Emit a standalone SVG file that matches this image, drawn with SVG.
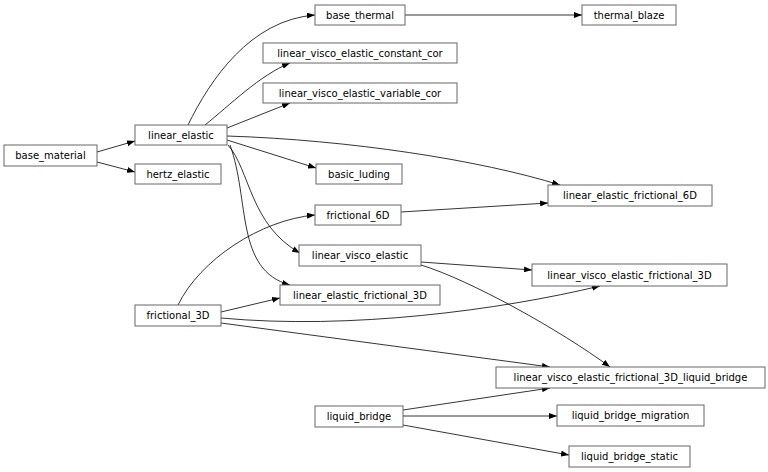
<svg xmlns="http://www.w3.org/2000/svg" width="768" height="472" viewBox="0 0 768 472">
<style>
rect{fill:#fff;stroke:#666;stroke-width:1}
text{font-family:"DejaVu Sans",sans-serif;font-size:10px;fill:#000;text-anchor:middle}
path{fill:none;stroke:#000;stroke-width:0.8;marker-end:url(#a)}
</style>
<defs><marker id="a" markerWidth="8" markerHeight="6" refX="8" refY="3" orient="auto" markerUnits="userSpaceOnUse"><path d="M0,0L8,3L0,6z" style="fill:#000;stroke:none;marker-end:none"/></marker></defs>
<rect width="768" height="472" style="stroke:none"/>
<g id="edges">
<path d="M97,152L135,141"/>
<path d="M97,162L135,172"/>
<path d="M188,125C210,80 250,20 315,15"/>
<path d="M205,125C230,105 260,75 290,63"/>
<path d="M227,128L290,103"/>
<path d="M227,140L316,168"/>
<path d="M227,136C350,140 480,160 560,185"/>
<path d="M228,145C250,170 250,225 300,253"/>
<path d="M230,145C250,200 235,270 290,285"/>
<path d="M405,15L582,15"/>
<path d="M401,212L548,203"/>
<path d="M178,305C200,260 260,220 315,215"/>
<path d="M221,312L280,298"/>
<path d="M221,318C350,330 500,310 600,286"/>
<path d="M221,323L550,367"/>
<path d="M421,262L532,270"/>
<path d="M421,265C470,280 560,330 610,367"/>
<path d="M403,410L550,388"/>
<path d="M403,416L557,416"/>
<path d="M403,425L569,455"/>
</g>
<g id="base_material"><rect x="4" y="145" width="93" height="21"/><text x="50.5" y="159">base_material</text></g>
<g id="linear_elastic"><rect x="135" y="125" width="92" height="20"/><text x="181" y="139">linear_elastic</text></g>
<g id="hertz_elastic"><rect x="135" y="164" width="86" height="20"/><text x="178" y="178">hertz_elastic</text></g>
<g id="base_thermal"><rect x="315" y="5" width="90" height="20"/><text x="360" y="19">base_thermal</text></g>
<g id="thermal_blaze"><rect x="582" y="5" width="94" height="20"/><text x="629" y="19">thermal_blaze</text></g>
<g id="lvecc"><rect x="263" y="43" width="194" height="20"/><text x="360" y="57">linear_visco_elastic_constant_cor</text></g>
<g id="lvevc"><rect x="263" y="83" width="194" height="20"/><text x="360" y="97">linear_visco_elastic_variable_cor</text></g>
<g id="basic_luding"><rect x="316" y="164" width="86" height="20"/><text x="359" y="178">basic_luding</text></g>
<g id="lef6D"><rect x="548" y="185" width="164" height="21"/><text x="630" y="199">linear_elastic_frictional_6D</text></g>
<g id="frictional_6D"><rect x="315" y="205" width="86" height="20"/><text x="358" y="219">frictional_6D</text></g>
<g id="linear_visco_elastic"><rect x="299" y="245" width="122" height="21"/><text x="360" y="259">linear_visco_elastic</text></g>
<g id="lvef3D"><rect x="532" y="264" width="195" height="22"/><text x="629.5" y="279">linear_visco_elastic_frictional_3D</text></g>
<g id="lef3D"><rect x="280" y="285" width="160" height="20"/><text x="360" y="299">linear_elastic_frictional_3D</text></g>
<g id="frictional_3D"><rect x="135" y="305" width="86" height="21"/><text x="178" y="319">frictional_3D</text></g>
<g id="lvef3Dlb"><rect x="496" y="367" width="269" height="21"/><text x="630.5" y="381">linear_visco_elastic_frictional_3D_liquid_bridge</text></g>
<g id="liquid_bridge"><rect x="315" y="406" width="88" height="21"/><text x="359" y="420">liquid_bridge</text></g>
<g id="lbm"><rect x="557" y="405" width="147" height="21"/><text x="630.5" y="419">liquid_bridge_migration</text></g>
<g id="lbs"><rect x="569" y="446" width="121" height="21"/><text x="629.5" y="460">liquid_bridge_static</text></g>
</svg>
